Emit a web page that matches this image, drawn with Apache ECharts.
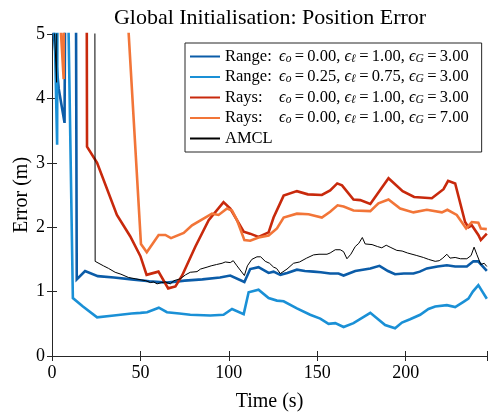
<!DOCTYPE html>
<html>
<head>
<meta charset="utf-8">
<script src="https://cdn.jsdelivr.net/npm/echarts@6/dist/echarts.min.js"></script>
<style>
html,body{margin:0;padding:0;background:#fff;}
#chart{width:490px;height:417px;}
</style>
</head>
<body>
<div id="chart"></div>
<script>
// ---- Data (time in s, error in m); values above 5 are off-chart and clipped ----
const rangeA = [[0,5.3],[3.8,4.15],[7.1,3.62],[8,9],[13.2,9],[14,1.19],[18.7,1.32],[25.9,1.24],[35,1.22],[45,1.19],[55,1.16],[65,1.14],[75,1.17],[85,1.19],[95,1.22],[100.8,1.25],[108.8,1.15],[112.1,1.35],[116.8,1.38],[120,1.33],[122.5,1.29],[125.3,1.31],[129.1,1.26],[133,1.29],[138.5,1.34],[143,1.32],[147.9,1.31],[152,1.30],[157.3,1.28],[162,1.28],[164.9,1.25],[171.5,1.32],[180,1.36],[185.2,1.40],[190,1.32],[194,1.27],[199,1.28],[204.4,1.28],[208,1.31],[212,1.36],[218,1.39],[223.3,1.41],[228,1.39],[234.6,1.39],[238.3,1.47],[241,1.47],[245.9,1.32]];
const rangeB = [[0,7],[2.9,3.28],[3.3,8],[8.7,6.2],[11.8,0.90],[17.5,0.77],[25.5,0.60],[35,0.63],[45,0.66],[50,0.67],[53.8,0.68],[60.4,0.75],[65,0.68],[72,0.66],[78.2,0.64],[89.5,0.63],[97,0.64],[101.8,0.73],[108.4,0.65],[111.2,0.99],[116.8,1.03],[122.5,0.90],[127.2,0.86],[131,0.85],[138.5,0.74],[146,0.64],[151.7,0.58],[156.4,0.50],[160.2,0.51],[164.9,0.45],[170.5,0.51],[180,0.67],[188.4,0.48],[194,0.43],[197.9,0.52],[202.5,0.57],[208.2,0.64],[212.9,0.73],[216.7,0.77],[223.3,0.79],[228,0.76],[232.7,0.84],[235.5,0.89],[238,1.0],[241.1,1.10],[245.9,0.89]];
const raysA = [[0,9],[19.4,9],[19.8,3.25],[25.5,3.0],[36.7,2.19],[44.2,1.86],[50,1.55],[53.5,1.26],[60.2,1.31],[65.7,1.05],[69.8,1.08],[73.6,1.25],[81.1,1.70],[88.6,2.11],[97,2.39],[100.8,2.29],[108.4,1.93],[112,1.90],[116.8,1.85],[122.5,1.92],[125.3,2.15],[131,2.49],[138.5,2.56],[144.7,2.51],[152.6,2.50],[157.3,2.57],[161.3,2.68],[164,2.65],[170.5,2.43],[174.3,2.42],[180,2.36],[190.3,2.76],[198.3,2.56],[204.8,2.47],[214.8,2.45],[221.4,2.59],[224,2.72],[228,2.68],[233.6,2.08],[235.5,2.0],[237.4,2.03],[241.1,1.88],[242.5,1.80],[245.9,1.90]];
const raysB = [[4.25,5.4],[6.6,4.3],[7,9],[37,8],[50.3,1.74],[53.6,1.61],[60.3,1.88],[64.1,1.88],[67.3,1.83],[74.5,1.91],[79.2,2.03],[90.5,2.21],[94.2,2.19],[99,2.29],[101.8,2.26],[104.6,2.11],[108.8,1.80],[112.1,1.79],[116.8,1.84],[122.5,1.87],[127.2,1.98],[131,2.15],[138.5,2.21],[145.1,2.20],[152.6,2.15],[157.3,2.24],[161.5,2.34],[164.9,2.32],[170.5,2.26],[180,2.25],[184.6,2.37],[190.3,2.43],[196.9,2.29],[204.4,2.23],[212,2.27],[220.5,2.23],[223.6,2.27],[228.9,2.19],[234.2,1.98],[237.4,2.08],[241.1,2.07],[242.5,1.98],[245.9,1.97]];
const amcl = [[0,6],[2.6,4.25],[3.1,9],[24.1,9],[24.4,1.47],[29.1,1.40],[32,1.36],[35.7,1.30],[39,1.27],[43.2,1.22],[47,1.20],[50.7,1.18],[53,1.17],[55.6,1.14],[57.5,1.15],[59.4,1.12],[62,1.14],[64.1,1.15],[66.9,1.12],[69,1.17],[72.6,1.20],[75.5,1.26],[78.2,1.30],[82,1.31],[84,1.35],[87.7,1.38],[90,1.40],[93,1.42],[96.2,1.44],[98,1.46],[100.8,1.45],[102.5,1.48],[104.6,1.40],[108.8,1.25],[110.5,1.40],[113,1.50],[115.9,1.54],[118,1.54],[120.6,1.47],[123,1.44],[125.3,1.38],[127,1.36],[129.1,1.28],[132.9,1.35],[136.6,1.44],[140,1.46],[144,1.52],[147.9,1.57],[151,1.58],[155.5,1.58],[157.3,1.60],[160.2,1.65],[163,1.65],[164.9,1.62],[166.8,1.51],[169,1.58],[171.5,1.70],[173.5,1.75],[175.5,1.84],[177.1,1.74],[181,1.73],[184,1.70],[186.5,1.68],[189,1.72],[191.2,1.69],[195,1.64],[198,1.63],[201,1.60],[206.3,1.56],[210,1.53],[213,1.50],[216.7,1.47],[219,1.48],[221,1.52],[223.3,1.58],[225.1,1.52],[228,1.53],[231,1.51],[234.6,1.51],[237,1.56],[238.7,1.69],[240.2,1.58],[242.5,1.42],[244.4,1.44],[245.9,1.39]];

const seriesNames = ['rangeA','rangeB','raysA','raysB','amcl'];
const legendPrefix = ['Range:','Range:','Rays:','Rays:','AMCL'];
const epsO = ['0.00','0.25','0.00','0.00',null];
const epsL = ['1.00','0.75','1.00','1.00',null];
const epsG = ['3.00','3.00','3.00','7.00',null];
const xTickValues = [0,50,100,150,200];
const yTickValues = [0,1,2,3,4,5];

const colors = ['#0b5ca8','#1a90d6','#c8290c','#f27538','#000000'];
const widths = [2.6,2.6,2.6,2.6,1.0];
const seriesData = [rangeA, rangeB, raysA, raysB, amcl];

const FONT = 'Liberation Serif';
const chart = echarts.init(document.getElementById('chart'), null, {renderer:'canvas'});

function legendFmt(name){
  const i = seriesNames.indexOf(name);
  if (epsO[i] === null) return '{p|' + legendPrefix[i] + '}';
  return '{p|' + legendPrefix[i] + '}' +
    '{e|\u03f5}{s|o}{n|\u2009=\u2009' + epsO[i] + ', }' +
    '{e|\u03f5}{s|\u2113}{n|\u2009=\u2009' + epsL[i] + ', }' +
    '{e|\u03f5}{s|G}{n|\u2009=\u2009' + epsG[i] + '}';
}

const axisCommon = {
  axisLine:{show:true, lineStyle:{color:'#262626', width:1}},
  axisTick:{show:true, inside:true, length:5, lineStyle:{color:'#262626', width:1}},
  splitLine:{show:false}
};

chart.setOption({
  animation:false,
  backgroundColor:'#fff',
  title:{
    text:'Global Initialisation: Position Error',
    left:265, top:2, textAlign:'center',
    textStyle:{fontFamily:FONT, fontSize:22, fontWeight:'normal', color:'#000'}
  },
  grid:{left:52, right:3, top:34, bottom:56, containLabel:false},
  legend:{
    orient:'vertical', left:185, top:43,
    backgroundColor:'#fff', borderColor:'#262626', borderWidth:1, borderRadius:0,
    padding:[5,13,5,4],
    itemWidth:30, itemHeight:3, itemGap:3.5,
    itemStyle:{opacity:0},
    formatter:legendFmt,
    textStyle:{
      fontFamily:FONT, fontSize:16.5, color:'#000', lineHeight:16,
      rich:{
        p:{fontFamily:FONT, fontSize:16.5, width:54, lineHeight:16, color:'#000'},
        e:{fontFamily:FONT, fontSize:16.5, fontStyle:'italic', lineHeight:16, color:'#000'},
        s:{fontFamily:FONT, fontSize:11.5, fontStyle:'italic', lineHeight:11, verticalAlign:'bottom', color:'#000'},
        n:{fontFamily:FONT, fontSize:16.5, lineHeight:16, color:'#000'}
      }
    },
    data:seriesNames
  },
  xAxis:[
    Object.assign({type:'value', min:0, max:246, interval:50, position:'bottom',
      name:'Time (s)', nameLocation:'middle', nameGap:36,
      nameTextStyle:{fontFamily:FONT, fontSize:20, color:'#000'},
      axisLabel:{fontFamily:FONT, fontSize:18, color:'#000', margin:8,
        formatter:(v)=> xTickValues.indexOf(v) >= 0 ? String(v) : ''}
    }, axisCommon),
    Object.assign({type:'value', min:0, max:246, interval:50, position:'top',
      axisLabel:{show:false}}, axisCommon)
  ],
  yAxis:[
    Object.assign({type:'value', min:0, max:5, interval:1, position:'left',
      name:'Error (m)', nameLocation:'middle', nameGap:20, nameMoveOverlap:false,
      nameTextStyle:{fontFamily:FONT, fontSize:20, color:'#000'},
      axisLabel:{fontFamily:FONT, fontSize:18, color:'#000', margin:7,
        formatter:(v)=> yTickValues.indexOf(v) >= 0 ? String(v) : ''}
    }, axisCommon),
    Object.assign({type:'value', min:0, max:5, interval:1, position:'right',
      axisLabel:{show:false}}, axisCommon)
  ],
  series: seriesNames.map((n,i)=>({
    name:n, type:'line', data:seriesData[i], xAxisIndex:0, yAxisIndex:0,
    symbol:'none', showSymbol:false, smooth:false, clip:true,
    lineStyle:{color:colors[i], width:widths[i], join:'miter'},
    itemStyle:{color:colors[i]},
    z: 2 + i
  }))
});
</script>
</body>
</html>
